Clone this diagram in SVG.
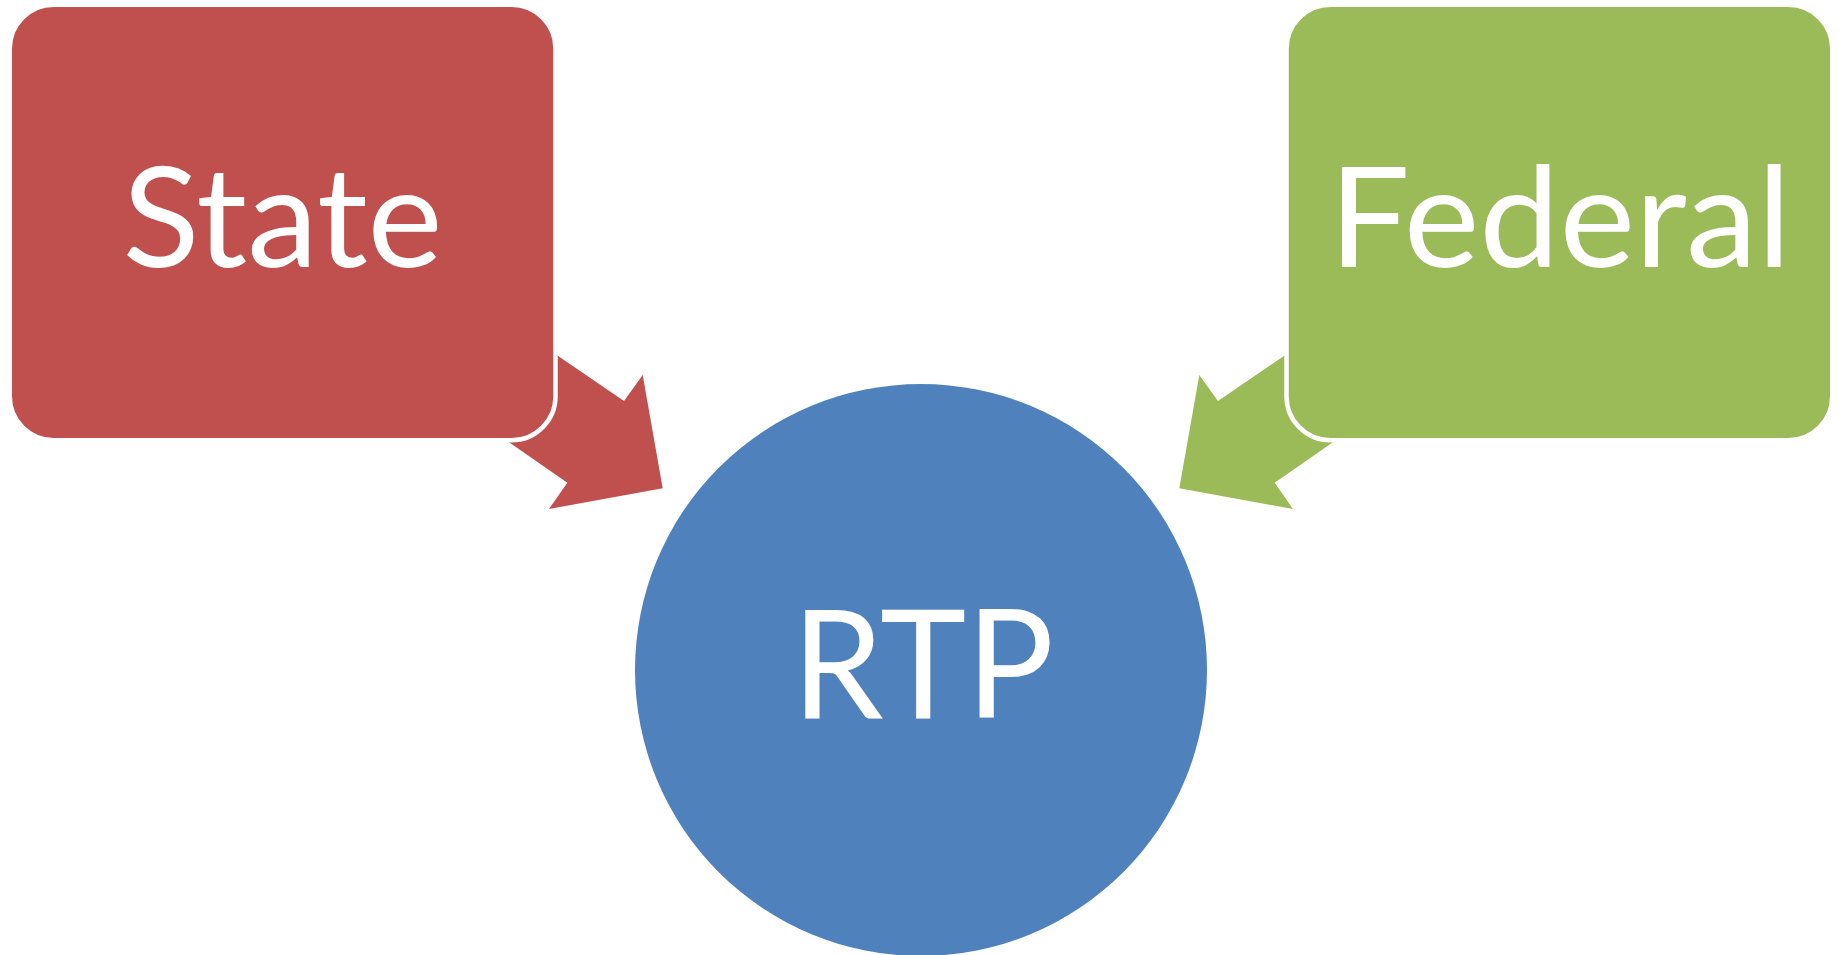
<svg xmlns="http://www.w3.org/2000/svg" width="1839" height="955" viewBox="0 0 1839 955">
  <style>
    .label { fill: #FFFFFF; font-family: Lato, "Open Sans", "Liberation Sans", sans-serif; text-anchor: middle; }
    .box { stroke: #FFFFFF; stroke-width: 4.5; }
    .red { fill: #C0504D; }
    .green { fill: #9BBB59; }
    .blue { fill: #4F81BD; }
  </style>

  <!-- block arrows pointing from each level of government into RTP; they sit under the boxes -->
  <g id="connectors">
    <polygon class="red" points="475.7,299.7 624,401 642.7,375 662.7,488.3 549,509 567.3,482.7 430.7,387.7"/>
    <polygon class="green" points="1366.3,299.7 1218,401 1199.3,375 1179.3,488.3 1293,509 1274.7,482.7 1411.3,387.7"/>
  </g>

  <g id="state">
    <rect class="box red" x="9.75" y="4.75" width="545.75" height="435.5" rx="44" ry="44"/>
    <text class="label" x="282.5" y="266.7" font-size="140" textLength="320" lengthAdjust="spacingAndGlyphs">State</text>
  </g>

  <g id="federal">
    <rect class="box green" x="1286.5" y="4.75" width="545.75" height="435.5" rx="44" ry="44"/>
    <text class="label" x="1560" y="266.7" font-size="140" textLength="462" lengthAdjust="spacingAndGlyphs">Federal</text>
  </g>

  <g id="rtp">
    <circle class="blue" cx="921" cy="670" r="286"/>
    <text class="label" x="923" y="718.3" font-size="152" textLength="262" lengthAdjust="spacingAndGlyphs">RTP</text>
  </g>
</svg>
